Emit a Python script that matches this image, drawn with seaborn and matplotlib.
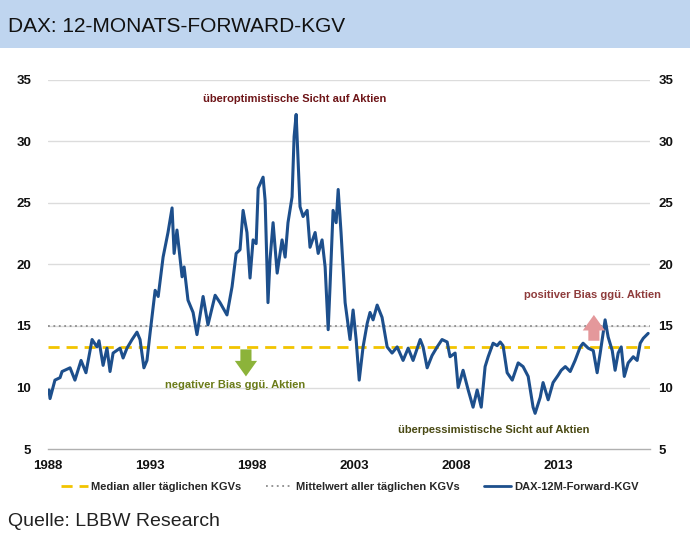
import matplotlib
matplotlib.use("Agg")
import matplotlib.pyplot as plt
import seaborn as sns
import pandas as pd
from matplotlib.patches import Rectangle
from matplotlib.lines import Line2D

# ---- data ----
years = [1988.05, 1988.10, 1988.34, 1988.59, 1988.69, 1989.08, 1989.32, 1989.62, 1989.86,
         1990.16, 1990.40, 1990.50, 1990.70, 1990.89, 1991.04, 1991.19, 1991.53, 1991.68,
         1991.87, 1992.12, 1992.36, 1992.51, 1992.70, 1992.85, 1993.00, 1993.15, 1993.25,
         1993.40, 1993.64, 1993.88, 1994.08, 1994.18, 1994.32, 1994.57, 1994.67, 1994.86,
         1995.11, 1995.30, 1995.60, 1995.84, 1996.19, 1996.43, 1996.77, 1997.02, 1997.22,
         1997.41, 1997.56, 1997.75, 1997.90, 1998.05, 1998.20, 1998.30, 1998.54, 1998.64,
         1998.78, 1998.88, 1999.03, 1999.23, 1999.47, 1999.62, 1999.76, 1999.96, 2000.06,
         2000.16, 2000.25, 2000.35, 2000.50, 2000.70, 2000.84, 2001.09, 2001.24, 2001.43,
         2001.58, 2001.73, 2001.82, 2001.97, 2002.12, 2002.22, 2002.36, 2002.56, 2002.80,
         2002.95, 2003.10, 2003.25, 2003.44, 2003.64, 2003.78, 2003.93, 2004.13, 2004.37,
         2004.62, 2004.86, 2005.11, 2005.40, 2005.65, 2005.89, 2006.24, 2006.38, 2006.58,
         2006.82, 2007.07, 2007.31, 2007.56, 2007.70, 2007.95, 2008.10, 2008.34, 2008.59,
         2008.83, 2009.03, 2009.23, 2009.42, 2009.57, 2009.81, 2010.01, 2010.16, 2010.30,
         2010.50, 2010.75, 2011.04, 2011.28, 2011.53, 2011.77, 2011.87, 2012.12, 2012.26,
         2012.51, 2012.75, 2013.00, 2013.15, 2013.35, 2013.59, 2013.83, 2014.08, 2014.22,
         2014.47, 2014.72, 2014.91, 2015.06, 2015.20, 2015.30, 2015.45, 2015.65, 2015.79,
         2015.94, 2016.09, 2016.24, 2016.43, 2016.68, 2016.87, 2017.02, 2017.17, 2017.41]
kgv = [9.8, 9.1, 10.6, 10.8, 11.3, 11.6, 10.6, 12.2, 11.2,
       13.9, 13.3, 13.8, 11.8, 13.2, 11.3, 12.8, 13.2, 12.4,
       13.2, 13.9, 14.5, 13.9, 11.6, 12.2, 14.4, 16.5, 17.9,
       17.4, 20.6, 22.6, 24.6, 20.9, 22.8, 19.0, 19.8, 17.1,
       16.1, 14.3, 17.4, 15.1, 17.5, 16.9, 15.9, 18.2, 20.9,
       21.2, 24.4, 22.6, 18.9, 22.0, 21.7, 26.2, 27.1, 25.2,
       16.9, 20.4, 23.4, 19.3, 22.0, 20.6, 23.4, 25.5, 30.4,
       32.2, 28.7, 24.7, 23.9, 24.4, 21.4, 22.6, 20.9, 22.0,
       19.8, 14.7, 18.2, 24.4, 23.4, 26.1, 22.6, 16.9, 13.9,
       16.3, 13.9, 10.6, 13.3, 15.2, 16.1, 15.5, 16.7, 15.7,
       13.3, 12.8, 13.3, 12.2, 13.2, 12.2, 13.9, 13.3, 11.6,
       12.6, 13.3, 13.9, 13.7, 12.5, 12.8, 10.0, 11.4, 9.8,
       8.4, 9.8, 8.4, 11.7, 12.5, 13.6, 13.4, 13.7, 13.4,
       11.2, 10.6, 12.0, 11.7, 10.9, 8.4, 7.9, 9.2, 10.4,
       9.0, 10.4, 11.0, 11.4, 11.7, 11.3, 12.2, 13.3, 13.6,
       13.2, 13.0, 11.2, 12.8, 14.4, 15.5, 14.1, 13.0, 11.4,
       12.8, 13.3, 10.9, 12.0, 12.5, 12.2, 13.6, 14.0, 14.4]
median_kgv = 13.3
mean_kgv = 15.0
x_ticks = [1988, 1993, 1998, 2003, 2008, 2013]
y_ticks = [5, 10, 15, 20, 25, 30, 35]

title = "DAX: 12-MONATS-FORWARD-KGV"
source = "Quelle: LBBW Research"
labels = ["Median aller täglichen KGVs", "Mittelwert aller täglichen KGVs", "DAX-12M-Forward-KGV"]

# ---- style ----
sns.set_theme(style="white")
plt.rcParams["font.family"] = ["Liberation Sans", "DejaVu Sans"]

NAVY = "#1d4f8c"
YELLOW = "#f2c400"
GREY = "#8c8c8c"

fig = plt.figure(figsize=(6.9, 5.39), dpi=100)
fig.patch.set_facecolor("white")
fig.patches.append(Rectangle((0, 1 - 48 / 539), 1, 48 / 539, transform=fig.transFigure,
                             facecolor="#bfd5ef", edgecolor="none", zorder=0))
fig.text(8 / 690, 1 - 27 / 539, title, fontsize=15, color="#111111", va="center", ha="left")
fig.text(8 / 690, 1 - 521 / 539, source, fontsize=14, color="#222222", va="center", ha="left")

ax = fig.add_axes([48 / 690, 1 - 449 / 539, 602 / 690, 369 / 539])
df = pd.DataFrame({"Jahr": years, "KGV": kgv})
ax.axhline(mean_kgv, color=GREY, lw=1.3, ls=(0, (1, 2)), zorder=2)
ax.axhline(median_kgv, color=YELLOW, lw=2.0, ls=(0, (4, 2.5)), zorder=2)
sns.lineplot(data=df, x="Jahr", y="KGV", ax=ax, color=NAVY, lw=2.2, zorder=3)

ax.set_xlim(1988, 2017.5)
ax.set_ylim(5, 35)
ax.set_xticks(x_ticks)
ax.set_xticklabels([str(y) for y in x_ticks])
ax.set_yticks(y_ticks)
ax.set_yticklabels([str(v) for v in y_ticks])
ax.set_xlabel("")
ax.set_ylabel("")
for v in y_ticks[1:]:
    ax.axhline(v, color="#dcdcdc", lw=1.0, zorder=1)
for s in ["top", "left", "right"]:
    ax.spines[s].set_visible(False)
ax.spines["bottom"].set_color("#b0b0b0")
ax.spines["bottom"].set_linewidth(1.0)
ax.tick_params(axis="x", direction="out", length=5, width=1, color="#b0b0b0", pad=3,
               labelsize=9.5, labelcolor="#111111")
ax.tick_params(axis="y", length=0, pad=12, labelsize=9.5, labelcolor="#111111")
for t in ax.get_xticklabels() + ax.get_yticklabels():
    t.set_fontweight("bold")

ax2 = ax.twinx()
ax2.set_ylim(5, 35)
ax2.set_yticks(y_ticks)
ax2.set_yticklabels([str(v) for v in y_ticks])
for s in ["top", "left", "right", "bottom"]:
    ax2.spines[s].set_visible(False)
ax2.tick_params(axis="y", length=0, pad=6, labelsize=9.5, labelcolor="#111111")
for t in ax2.get_yticklabels():
    t.set_fontweight("bold")

# annotations
ax.text(2000.1, 33.45, "überoptimistische Sicht auf Aktien", color="#6e1518", fontsize=8,
        fontweight="bold", ha="center", va="center")
ax.text(1997.17, 10.2, "negativer Bias ggü. Aktien", color="#6a7a18", fontsize=8,
        fontweight="bold", ha="center", va="center")
ax.text(2014.67, 17.5, "positiver Bias ggü. Aktien", color="#8e3b3b", fontsize=8,
        fontweight="bold", ha="center", va="center")
ax.text(2009.86, 6.55, "überpessimistische Sicht auf Aktien", color="#4a4a14", fontsize=8,
        fontweight="bold", ha="center", va="center")
arrow_style = "simple,head_width=1.0,head_length=0.7,tail_width=0.5"
ax.annotate("", xy=(1997.7, 10.9), xytext=(1997.7, 13.1), zorder=4,
            arrowprops=dict(arrowstyle=arrow_style, color="#8cb33a", lw=0,
                            mutation_scale=16, shrinkA=0, shrinkB=0))
ax.annotate("", xy=(2014.75, 15.9), xytext=(2014.75, 13.8), zorder=4,
            arrowprops=dict(arrowstyle=arrow_style, color="#e4989b", lw=0,
                            mutation_scale=16, shrinkA=0, shrinkB=0))

handles = [Line2D([], [], color=YELLOW, lw=2.0, ls=(0, (4, 2.5))),
           Line2D([], [], color=GREY, lw=1.3, ls=(0, (1, 2))),
           Line2D([], [], color=NAVY, lw=2.0)]
leg = fig.legend(handles, labels, loc="center", bbox_to_anchor=(350 / 690, 1 - 487 / 539),
                 ncol=3, frameon=False, handlelength=2.4, handletextpad=0.3, columnspacing=2.2,
                 prop={"weight": "bold", "size": 8})

fig.savefig("out.png", dpi=100)
